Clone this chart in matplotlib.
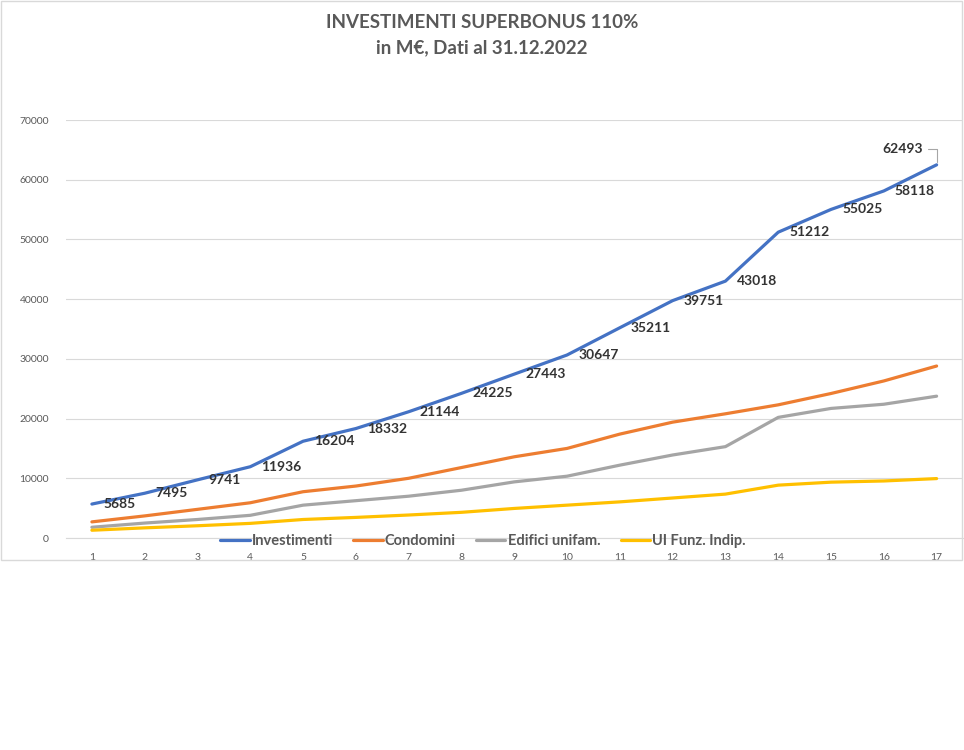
import numpy as np
import matplotlib
matplotlib.use("Agg")
import matplotlib.pyplot as plt
from matplotlib.patches import Rectangle

# -------------------------- DATA ----------------------------
periods = list(range(1, 18))
investimenti = [5685, 7495, 9741, 11936, 16204, 18332, 21144, 24225, 27443,
                30647, 35211, 39751, 43018, 51212, 55025, 58118, 62493]
condomini = [2700, 3700, 4800, 5900, 7750, 8700, 10000, 11800, 13600,
             15000, 17400, 19400, 20800, 22300, 24200, 26300, 28800]
edifici_unifam = [1800, 2500, 3100, 3800, 5500, 6250, 7000, 8000, 9400,
                  10350, 12200, 13900, 15300, 20200, 21700, 22400, 23750]
ui_funz_indip = [1300, 1700, 2050, 2450, 3100, 3450, 3850, 4300, 4950,
                 5500, 6050, 6700, 7350, 8850, 9350, 9550, 9950]

series_names = ["Investimenti", "Condomini", "Edifici unifam.", "UI Funz. Indip."]
series_colors = ["#4472C4", "#ED7D31", "#A5A5A5", "#FFC000"]
y_ticks = [0, 10000, 20000, 30000, 40000, 50000, 60000, 70000]

# -------------------------- SETTINGS ----------------------------
WIDTH, HEIGHT, DPI = 9.64, 7.5, 100
plt.rcParams['font.family'] = ['Lato', 'DejaVu Sans']
TEXT_GRAY = "#595959"
LABEL_DARK = "#333333"
GRID = "#d9d9d9"

fig = plt.figure(figsize=(WIDTH, HEIGHT), dpi=DPI)
fig.patch.set_facecolor("white")

# chart area border
fig.patches.append(Rectangle((0.5 / 964, 1 - 560 / 750), 961 / 964, 559 / 750,
                             transform=fig.transFigure, fill=False,
                             edgecolor=GRID, linewidth=1.0))

# titles
fig.text(0.5, 1 - 23 / 750, "INVESTIMENTI SUPERBONUS 110%", ha="center", va="center",
         fontsize=13.5, fontweight="bold", color=TEXT_GRAY)
fig.text(0.5, 1 - 48 / 750, "in M€, Dati al 31.12.2022", ha="center", va="center",
         fontsize=13.5, fontweight="bold", color=TEXT_GRAY)

ax = fig.add_axes([65.5 / 964, 1 - 538 / 750, 897.5 / 964, 418 / 750])

all_series = [investimenti, condomini, edifici_unifam, ui_funz_indip]
lines = []
for name, vals, col in zip(series_names, all_series, series_colors):
    ln, = ax.plot(periods, vals, color=col, linewidth=2.3, label=name,
                  solid_joinstyle="round", solid_capstyle="round", zorder=3)
    lines.append(ln)

# data labels for Investimenti
for i, (xv, yv) in enumerate(zip(periods, investimenti)):
    if i == len(periods) - 1:
        ax.annotate(str(yv), xy=(xv, yv), xytext=(-10, 11.5), textcoords="offset points",
                    ha="right", va="center", fontsize=10, fontweight="bold",
                    color=LABEL_DARK, zorder=5,
                    arrowprops=dict(arrowstyle="-", color="#a6a6a6", lw=0.8,
                                    connectionstyle="angle,angleA=0,angleB=90,rad=0",
                                    shrinkA=2, shrinkB=2))
    else:
        ax.annotate(str(yv), xy=(xv, yv), xytext=(8, 0), textcoords="offset points",
                    ha="left", va="center", fontsize=10, fontweight="bold",
                    color=LABEL_DARK, zorder=5)

ax.set_xlim(0.5, 17.5)
ax.set_ylim(0, 70000)
ax.set_xticks(periods)
ax.set_xticklabels([str(p) for p in periods])
ax.set_yticks(y_ticks)
ax.set_yticklabels([str(t) for t in y_ticks])
ax.tick_params(axis="both", length=0, labelsize=7.5, labelcolor=TEXT_GRAY)
ax.tick_params(axis="x", pad=11)
ax.tick_params(axis="y", pad=12)
ax.grid(axis="y", color=GRID, linewidth=0.8, zorder=0)
for side in ["top", "right", "left"]:
    ax.spines[side].set_visible(False)
ax.spines["bottom"].set_color(GRID)
ax.spines["bottom"].set_linewidth(0.8)
ax.set_facecolor("none")

leg = fig.legend(handles=lines, loc="center", bbox_to_anchor=(483 / 964, 1 - 541 / 750),
                 ncol=4, frameon=False, handlelength=2.0, handletextpad=0.15,
                 columnspacing=1.4, borderaxespad=0,
                 prop={"size": 10.5, "weight": "bold"})
for t in leg.get_texts():
    t.set_color(TEXT_GRAY)

fig.savefig("out.png", dpi=DPI, facecolor="white")
